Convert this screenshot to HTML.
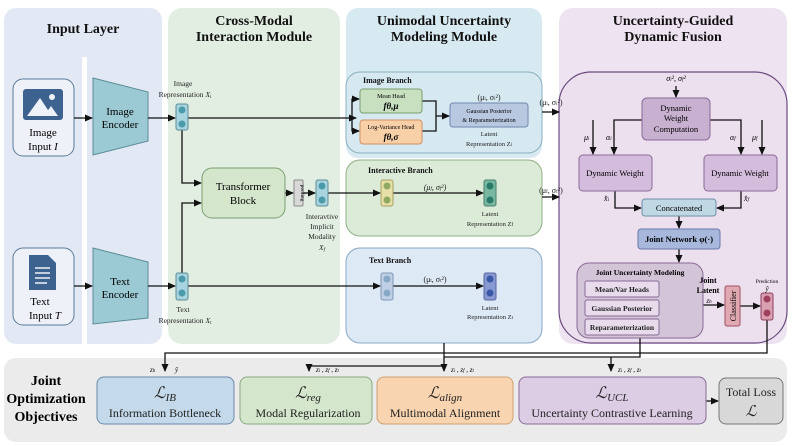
<!DOCTYPE html>
<html><head><meta charset="utf-8"><style>
html,body{margin:0;padding:0;background:#fff}
svg{display:block;font-family:"Liberation Serif",serif}
</style></head><body>
<svg width="793" height="446" viewBox="0 0 793 446" xmlns="http://www.w3.org/2000/svg">
<defs>
<marker id="a" markerWidth="8" markerHeight="8" refX="7" refY="4" orient="auto" markerUnits="userSpaceOnUse"><path d="M0,0.5 L8,4 L0,7.5 Z" fill="#111"/></marker>
</defs>
<!-- panels -->
<rect x="4" y="8" width="158" height="336" rx="12" fill="#e2e9f4"/>
<rect x="82" y="57" width="5" height="290" fill="#fff"/>
<rect x="168" y="8" width="172" height="336" rx="14" fill="#e3eee3"/>
<rect x="346" y="8" width="196" height="150" rx="12" fill="#d8eaf1"/>
<rect x="559" y="8" width="228" height="336" rx="14" fill="#eee3f0"/>
<rect x="559" y="72" width="228" height="271" rx="32" fill="#ecdfee" stroke="#6a4a80" stroke-width="1.2"/>
<rect x="4" y="358" width="783" height="84" rx="12" fill="#ebebeb"/>
<g font-weight="bold" font-size="14" text-anchor="middle" fill="#111">
<text x="83" y="33">Input Layer</text>
<text x="254" y="25">Cross-Modal</text><text x="254" y="41">Interaction Module</text>
<text x="444" y="25">Unimodal Uncertainty</text><text x="444" y="41">Modeling Module</text>
<text x="673" y="25">Uncertainty-Guided</text><text x="673" y="41">Dynamic Fusion</text>
</g>
<!-- branches -->
<rect x="346" y="72" width="196" height="81" rx="14" fill="#d6e8f0" stroke="#8ab0c0"/>
<rect x="346" y="160" width="196" height="76" rx="14" fill="#dcebd8" stroke="#90b088"/>
<rect x="346" y="248" width="196" height="95" rx="14" fill="#dde9f4" stroke="#88a8c4"/>
<g font-weight="bold" font-size="8" fill="#111">
<text x="363" y="83">Image Branch</text><text x="368" y="173">Interactive Branch</text><text x="369" y="263">Text Branch</text>
</g>
<!-- inputs -->
<rect x="13" y="79" width="61" height="77" rx="10" fill="#eef2f8" stroke="#5a7a9a"/>
<rect x="23" y="89" width="40" height="31" rx="3" fill="#3d6290"/>
<path d="M27,116 L40,98 L52,116 Z M44,116 L51,106 L58,116Z" fill="#eef2f8"/><circle cx="52" cy="97" r="3" fill="#eef2f8"/>
<text x="43" y="136" font-size="11" text-anchor="middle">Image</text><text x="43" y="150" font-size="11" text-anchor="middle">Input <tspan font-style="italic">I</tspan></text>
<rect x="13" y="248" width="61" height="77" rx="10" fill="#eef2f8" stroke="#5a7a9a"/>
<path d="M29,255 L48,255 L56,263 L56,290 L29,290 Z" fill="#3d6290"/><path d="M35,268h15M35,273h15M35,278h15M35,283h12" stroke="#eef2f8" stroke-width="1.5"/>
<text x="40" y="305" font-size="11" text-anchor="middle">Text</text><text x="45" y="319" font-size="11" text-anchor="middle">Input <tspan font-style="italic">T</tspan></text>
<path d="M93,78 L148,92 L148,141 L93,155 Z" fill="#9ccad4" stroke="#5a8c96"/>
<text x="120" y="115" font-size="11" text-anchor="middle">Image</text><text x="120" y="128" font-size="11" text-anchor="middle">Encoder</text>
<path d="M93,248 L148,262 L148,318 L93,324 Z" fill="#9ccad4" stroke="#5a8c96"/>
<text x="120" y="285" font-size="11" text-anchor="middle">Text</text><text x="120" y="298" font-size="11" text-anchor="middle">Encoder</text>
<g stroke="#111" stroke-width="1.3" fill="none">
<path d="M74,118H92" marker-end="url(#a)"/><path d="M74,286H92" marker-end="url(#a)"/>
<path d="M148,118H175" marker-end="url(#a)"/><path d="M148,286H175" marker-end="url(#a)"/>
<path d="M188,118H356" marker-end="url(#a)"/><path d="M352,118V99H359" marker-end="url(#a)"/><path d="M352,118V131H359" marker-end="url(#a)"/>
<path d="M182,130V183H201" marker-end="url(#a)"/><path d="M182,273V203H201" marker-end="url(#a)"/>
<path d="M285,193H293" marker-end="url(#a)"/><path d="M303,193H315" marker-end="url(#a)"/>
<path d="M328,193H380" marker-end="url(#a)"/><path d="M188,286H380" marker-end="url(#a)"/>
<path d="M393,193H483" marker-end="url(#a)"/><path d="M393,286H483" marker-end="url(#a)"/>
<path d="M422,101H436V131H422M436,116H449" marker-end="url(#a)"/>
<path d="M542,112H559" marker-end="url(#a)"/><path d="M542,197H559" marker-end="url(#a)"/>
<path d="M676,86V97" marker-end="url(#a)"/>
<path d="M642,120H614V154" marker-end="url(#a)"/><path d="M593,120V154" marker-end="url(#a)"/>
<path d="M710,120H741V154" marker-end="url(#a)"/><path d="M762,120V154" marker-end="url(#a)"/>
<path d="M615,191V208H641" marker-end="url(#a)"/><path d="M741,191V208H717" marker-end="url(#a)"/>
<path d="M679,216V228" marker-end="url(#a)"/><path d="M679,249V262" marker-end="url(#a)"/>
<path d="M659,289H671V326H659M659,308H680" marker-end="url(#a)"/>
<path d="M693,305H724" marker-end="url(#a)"/><path d="M740,306H760" marker-end="url(#a)"/>
<path d="M767,320V353H165V371" marker-end="url(#a)"/>
<path d="M640,338V357H444"/><path d="M611,357V371" marker-end="url(#a)"/>
<path d="M444,343V371" marker-end="url(#a)"/><path d="M444,366H309V371" marker-end="url(#a)"/>
<path d="M706,401H718" marker-end="url(#a)"/>
</g>
<!-- nodes -->
<g stroke-width="1">
<rect x="176" y="104" width="12" height="26" rx="2" fill="#a8d4e0" stroke="#5a8c96"/><circle cx="182" cy="110" r="3.5" fill="#4a9aaa"/><circle cx="182" cy="124" r="3.5" fill="#4a9aaa"/>
<rect x="176" y="273" width="12" height="27" rx="2" fill="#a8d4e0" stroke="#5a8c96"/><circle cx="182" cy="279" r="3.5" fill="#4a9aaa"/><circle cx="182" cy="293" r="3.5" fill="#4a9aaa"/>
<rect x="316" y="180" width="12" height="26" rx="2" fill="#a8d4e0" stroke="#5a8c96"/><circle cx="322" cy="186" r="3.5" fill="#4a9aaa"/><circle cx="322" cy="200" r="3.5" fill="#4a9aaa"/>
<rect x="381" y="180" width="12" height="26" rx="2" fill="#e6e0a8" stroke="#a8a060"/><circle cx="387" cy="186" r="3.5" fill="#90a860"/><circle cx="387" cy="200" r="3.5" fill="#90a860"/>
<rect x="484" y="180" width="12" height="26" rx="2" fill="#78b8a0" stroke="#4a8070"/><circle cx="490" cy="186" r="3.5" fill="#2a7a6a"/><circle cx="490" cy="200" r="3.5" fill="#2a7a6a"/>
<rect x="381" y="273" width="12" height="27" rx="2" fill="#c0d0e4" stroke="#8098b8"/><circle cx="387" cy="279" r="3.5" fill="#88a8c8"/><circle cx="387" cy="293" r="3.5" fill="#88a8c8"/>
<rect x="484" y="273" width="12" height="27" rx="2" fill="#8898d0" stroke="#5868a0"/><circle cx="490" cy="279" r="3.5" fill="#3a58a8"/><circle cx="490" cy="293" r="3.5" fill="#3a58a8"/>
<rect x="681" y="292" width="12" height="27" rx="2" fill="#d8b8e0" stroke="#8a6a98"/><circle cx="687" cy="298" r="3.5" fill="#a060b0"/><circle cx="687" cy="312" r="3.5" fill="#a060b0"/>
<rect x="761" y="293" width="12" height="27" rx="2" fill="#d8a0b0" stroke="#904060"/><circle cx="767" cy="299" r="3.5" fill="#a04060"/><circle cx="767" cy="313" r="3.5" fill="#a04060"/>
</g>
<rect x="202" y="168" width="83" height="50" rx="10" fill="#d4e6cc" stroke="#7aa070"/>
<text x="243" y="190" font-size="11" text-anchor="middle">Transformer</text><text x="243" y="204" font-size="11" text-anchor="middle">Block</text>
<rect x="294" y="180" width="9" height="26" rx="1" fill="#d8d8d8" stroke="#888"/>
<text transform="translate(301,193) rotate(90)" font-size="5.5" text-anchor="middle">pooling</text>
<g font-size="7.5" text-anchor="middle" fill="#222">
<text x="183" y="86">Image</text><text x="185" y="97">Representation <tspan font-style="italic">X<tspan font-size="5" dy="1">i</tspan></tspan></text>
<text x="183" y="312">Text</text><text x="185" y="323">Representation <tspan font-style="italic">X<tspan font-size="5" dy="1">t</tspan></tspan></text>
<text x="322" y="219">Interavtive</text><text x="322" y="229">Implicit</text><text x="322" y="239">Modality</text><text x="322" y="250" font-style="italic">X<tspan font-size="5" dy="1">f</tspan></text>
<text x="489" y="136" font-size="6.5">Latent</text><text x="489" y="146" font-size="6.5">Representation Z<tspan font-size="5">i</tspan></text>
<text x="490" y="216" font-size="6.5">Latent</text><text x="490" y="226" font-size="6.5">Representation Z<tspan font-size="5">f</tspan></text>
<text x="490" y="310" font-size="6.5">Latent</text><text x="490" y="319" font-size="6.5">Representation Z<tspan font-size="5">t</tspan></text>
<text x="489" y="100" font-size="8">(μ<tspan font-size="5">i</tspan>, σ<tspan font-size="5">i</tspan>²)</text>
<text x="435" y="190" font-size="8" font-style="italic">(μ<tspan font-size="5">f</tspan>, σ<tspan font-size="5">f</tspan>²)</text>
<text x="435" y="282" font-size="8">(μ<tspan font-size="5">t</tspan>, σ<tspan font-size="5">t</tspan>²)</text>
<text x="551" y="105" font-size="8">(μ<tspan font-size="5">i</tspan>, σ<tspan font-size="5">i</tspan>²)</text>
<text x="551" y="193" font-size="8">(μ<tspan font-size="5">f</tspan>, σ<tspan font-size="5">f</tspan>²)</text>
</g>
<rect x="360" y="89" width="62" height="24" rx="3" fill="#c8e0c0" stroke="#7aa070"/>
<text x="391" y="98" font-size="6" text-anchor="middle">Mean Head</text><text x="391" y="109" font-size="9" font-weight="bold" font-style="italic" text-anchor="middle">fθ,μ</text>
<rect x="360" y="120" width="62" height="24" rx="3" fill="#f8d0a8" stroke="#d09060"/>
<text x="391" y="129" font-size="6" text-anchor="middle">Log-Variance Head</text><text x="391" y="140" font-size="9" font-weight="bold" font-style="italic" text-anchor="middle">fθ,σ</text>
<rect x="450" y="103" width="78" height="24" rx="3" fill="#b8c8e0" stroke="#7088b0"/>
<text x="489" y="113" font-size="6" text-anchor="middle">Gaussian Posterior</text><text x="489" y="122" font-size="6" text-anchor="middle">&amp; Reparameterization</text>
<!-- fusion -->
<text x="676" y="81" font-size="8" text-anchor="middle" font-style="italic">σ<tspan font-size="5">i</tspan>², σ<tspan font-size="5">f</tspan>²</text>
<rect x="642" y="98" width="68" height="42" rx="5" fill="#c8b0d0" stroke="#8a6a98"/>
<g font-size="8.5" text-anchor="middle"><text x="676" y="111">Dynamic</text><text x="676" y="121">Weight</text><text x="676" y="132">Computation</text></g>
<g font-size="8" font-style="italic"><text x="584" y="140">μ<tspan font-size="5">i</tspan></text><text x="606" y="140">α<tspan font-size="5">i</tspan></text><text x="730" y="140">α<tspan font-size="5">f</tspan></text><text x="752" y="140">μ<tspan font-size="5">f</tspan></text>
<text x="604" y="201">x̂<tspan font-size="5">i</tspan></text><text x="744" y="201">x̂<tspan font-size="5">f</tspan></text></g>
<rect x="579" y="155" width="73" height="36" rx="4" fill="#d4bcdc" stroke="#8a6a98"/><text x="615" y="176" font-size="8.5" text-anchor="middle">Dynamic Weight</text>
<rect x="704" y="155" width="73" height="36" rx="4" fill="#d4bcdc" stroke="#8a6a98"/><text x="740" y="176" font-size="8.5" text-anchor="middle">Dynamic Weight</text>
<rect x="642" y="199" width="74" height="17" rx="3" fill="#c0d8e4" stroke="#7090a8"/><text x="679" y="211" font-size="8.5" text-anchor="middle">Concatenated</text>
<rect x="638" y="229" width="82" height="20" rx="3" fill="#a8b8dc" stroke="#6878a8"/><text x="679" y="242" font-size="8.5" font-weight="bold" text-anchor="middle">Joint Network φ(·)</text>
<rect x="577" y="263" width="126" height="75" rx="12" fill="#d4c4d8" stroke="#8a6a98"/>
<text x="640" y="275" font-size="7.5" font-weight="bold" text-anchor="middle">Joint Uncertainty Modeling</text>
<g font-size="7.5" font-weight="bold" text-anchor="middle" fill="#222">
<rect x="585" y="281" width="74" height="16" rx="2" fill="#e8dcec" stroke="#8a6a98"/><text x="622" y="292">Mean/Var Heads</text>
<rect x="585" y="300" width="74" height="16" rx="2" fill="#e8dcec" stroke="#8a6a98"/><text x="622" y="311">Gaussian Posterior</text>
<rect x="585" y="319" width="74" height="16" rx="2" fill="#e8dcec" stroke="#8a6a98"/><text x="622" y="330">Reparameterization</text>
</g>
<g font-size="8" text-anchor="middle" font-weight="bold"><text x="708" y="283">Joint</text><text x="708" y="293">Latent</text></g>
<text x="709" y="303" font-size="7" font-style="italic" text-anchor="middle">z<tspan font-size="5">h</tspan></text>
<rect x="725" y="286" width="15" height="40" rx="2" fill="#e0a8b0" stroke="#a05060"/>
<text transform="translate(736,306) rotate(-90)" font-size="8" text-anchor="middle">Classifier</text>
<text x="767" y="283" font-size="5.5" text-anchor="middle">Prediction</text><text x="767" y="291" font-size="7" font-style="italic" text-anchor="middle">ŷ</text>
<!-- bottom -->
<g font-size="14" font-weight="bold" text-anchor="middle"><text x="46" y="385">Joint</text><text x="46" y="403">Optimization</text><text x="46" y="421">Objectives</text></g>
<g font-size="7" font-style="italic"><text x="150" y="372">z<tspan font-size="5">h</tspan></text><text x="175" y="372">ŷ</text>
<text x="316" y="372">z<tspan font-size="5">i</tspan> , z<tspan font-size="5">f</tspan> , z<tspan font-size="5">t</tspan></text>
<text x="451" y="372">z<tspan font-size="5">i</tspan> , z<tspan font-size="5">f</tspan> , z<tspan font-size="5">t</tspan></text>
<text x="618" y="372">z<tspan font-size="5">i</tspan> , z<tspan font-size="5">f</tspan> , z<tspan font-size="5">t</tspan></text></g>
<rect x="97" y="377" width="137" height="47" rx="7" fill="#c4daea" stroke="#6a8aaa"/>
<rect x="240" y="377" width="132" height="47" rx="7" fill="#d4e6cc" stroke="#8aaa80"/>
<rect x="377" y="377" width="136" height="47" rx="7" fill="#f8d4b0" stroke="#d0a070"/>
<rect x="519" y="377" width="187" height="47" rx="7" fill="#dccce4" stroke="#8a6a98"/>
<rect x="719" y="378" width="64" height="46" rx="7" fill="#d8d8d8" stroke="#777"/>
<g font-size="12" text-anchor="middle" fill="#222">
<text x="165" y="398" font-size="16" font-style="italic">ℒ<tspan font-size="11" dy="3">IB</tspan></text><text x="165" y="417">Information Bottleneck</text>
<text x="308" y="398" font-size="16" font-style="italic">ℒ<tspan font-size="11" dy="3">reg</tspan></text><text x="308" y="417">Modal Regularization</text>
<text x="445" y="398" font-size="16" font-style="italic">ℒ<tspan font-size="11" dy="3">align</tspan></text><text x="445" y="417">Multimodal Alignment</text>
<text x="612" y="398" font-size="16" font-style="italic">ℒ<tspan font-size="11" dy="3">UCL</tspan></text><text x="612" y="417">Uncertainty Contrastive Learning</text>
<text x="751" y="396">Total Loss</text><text x="751" y="416" font-size="15" font-style="italic">ℒ</text>
</g>
</svg>
</body></html>
